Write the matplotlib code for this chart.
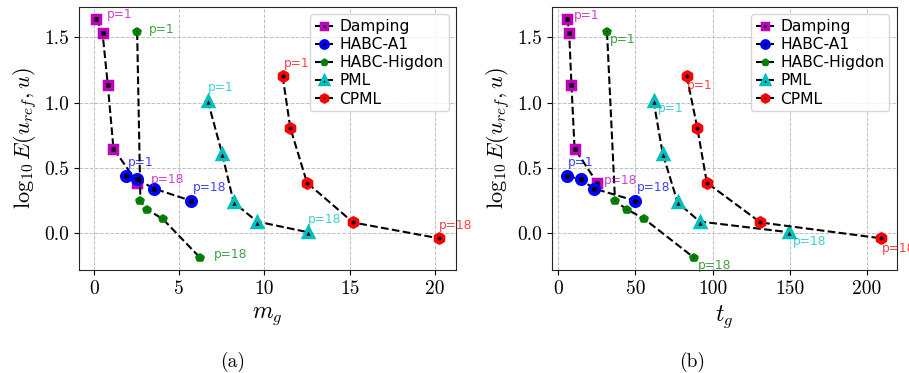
import matplotlib
matplotlib.use("Agg")
import matplotlib.pyplot as plt
from matplotlib.markers import MarkerStyle

methods = ["Damping", "HABC-A1", "HABC-Higdon", "PML", "CPML"]
log_err = {
    "Damping": [1.644, 1.535, 1.134, 0.649, 0.385],
    "HABC-A1": [0.439, 0.413, 0.343, 0.249],
    "HABC-Higdon": [1.540, 0.244, 0.182, 0.110, -0.190],
    "PML": [1.015, 0.611, 0.236, 0.090, 0.008],
    "CPML": [1.203, 0.808, 0.387, 0.083, -0.039],
}
m_g = {
    "Damping": [0.14, 0.51, 0.82, 1.15, 2.56],
    "HABC-A1": [1.90, 2.54, 3.52, 5.70],
    "HABC-Higdon": [2.54, 2.73, 3.13, 4.04, 6.25],
    "PML": [6.68, 7.52, 8.20, 9.57, 12.56],
    "CPML": [11.07, 11.52, 12.50, 15.20, 20.25],
}
t_g = {
    "Damping": [6.1, 7.2, 8.7, 10.7, 25.4],
    "HABC-A1": [6.1, 14.6, 23.2, 49.9],
    "HABC-Higdon": [31.7, 36.9, 44.9, 55.8, 88.3],
    "PML": [61.8, 67.7, 77.4, 91.6, 149.5],
    "CPML": [83.3, 90.1, 96.3, 131.0, 209.3],
}

style = {
    "Damping": dict(marker=MarkerStyle("s"), mec="m", ms=6.0, mew=2.5),
    "HABC-A1": dict(marker=MarkerStyle("o"), mec="b", ms=6.6, mew=2.8),
    "HABC-Higdon": dict(marker=MarkerStyle("p", joinstyle="round"), mec="g", ms=4.4, mew=2.6),
    "PML": dict(marker=MarkerStyle("^"), mec="c", ms=7.6, mew=2.5),
    "CPML": dict(marker=MarkerStyle("h", joinstyle="round"), mec="r", ms=6.4, mew=2.8),
}
# label offsets in pixels (dx, dy) for first / last point
offs_a = {
    "Damping": [(11, 4), (13, 4)],
    "HABC-A1": [(2, 13), (2, 13)],
    "HABC-Higdon": [(12, 3), (13, 4)],
    "PML": [(0, 13), (0, 13)],
    "CPML": [(1, 13), (0, 13)],
}
offs_b = {
    "Damping": [(6, 3), (7, 3)],
    "HABC-A1": [(0, 13), (2, 13)],
    "HABC-Higdon": [(3, -7), (3, -7)],
    "PML": [(4, -8), (4, -9)],
    "CPML": [(0, -9), (0, -10)],
}

plt.rcParams["mathtext.fontset"] = "cm"
plt.rcParams["axes.unicode_minus"] = False

fig = plt.figure(figsize=(9.09, 3.73), dpi=100)
ax_a = fig.add_axes([0.087, 0.276, 0.415, 0.706])
ax_b = fig.add_axes([0.607, 0.276, 0.380, 0.706])


def panel(ax, xs, offs, xlabel):
    for name in methods:
        st = style[name]
        ax.plot(xs[name], log_err[name], "k--", lw=1.5, mfc="k", label=name, **st)
        c = st["mec"]
        pts = [(xs[name][0], log_err[name][0], "p=1"),
               (xs[name][-1], log_err[name][-1], "p=18")]
        for (x, y, txt), (dx, dy) in zip(pts, offs[name]):
            ax.annotate(txt, (x, y), xytext=(dx, dy), textcoords="offset pixels",
                        color=c, alpha=0.75, fontsize=8.8, ha="left", va="center",
                        family="DejaVu Sans")
    ax.grid(True, ls="--", lw=0.7, color="0.75")
    ax.set_xlabel(xlabel, fontsize=17)
    ax.set_ylabel(r"$\log_{10}E(u_{ref},u)$", fontsize=16, labelpad=4)
    ax.tick_params(labelsize=14)
    ax.set_yticks([0.0, 0.5, 1.0, 1.5])
    ax.set_yticklabels(["0.0", "0.5", "1.0", "1.5"], fontfamily="cmr10", fontsize=14)
    for sp in ax.spines.values():
        sp.set_color("0.15")
    ax.legend(loc="upper right", markerscale=0.75, handlelength=1.2,
              handletextpad=0.4, borderpad=0.3, labelspacing=0.2,
              prop={"family": "DejaVu Sans", "size": 11.2})


panel(ax_a, m_g, offs_a, r"$m_g$")
panel(ax_b, t_g, offs_b, r"$t_g$")
ax_a.set_xticks([0, 5, 10, 15, 20])
ax_a.set_xticklabels(["0", "5", "10", "15", "20"], fontfamily="cmr10", fontsize=14)
ax_b.set_xticks([0, 50, 100, 150, 200])
ax_b.set_xticklabels(["0", "50", "100", "150", "200"], fontfamily="cmr10", fontsize=14)

fig.text(0.256, 0.03, "(a)", ha="center", va="center", family="cmr10", fontsize=14)
fig.text(0.761, 0.03, "(b)", ha="center", va="center", family="cmr10", fontsize=14)

fig.savefig("out.png", dpi=100)
